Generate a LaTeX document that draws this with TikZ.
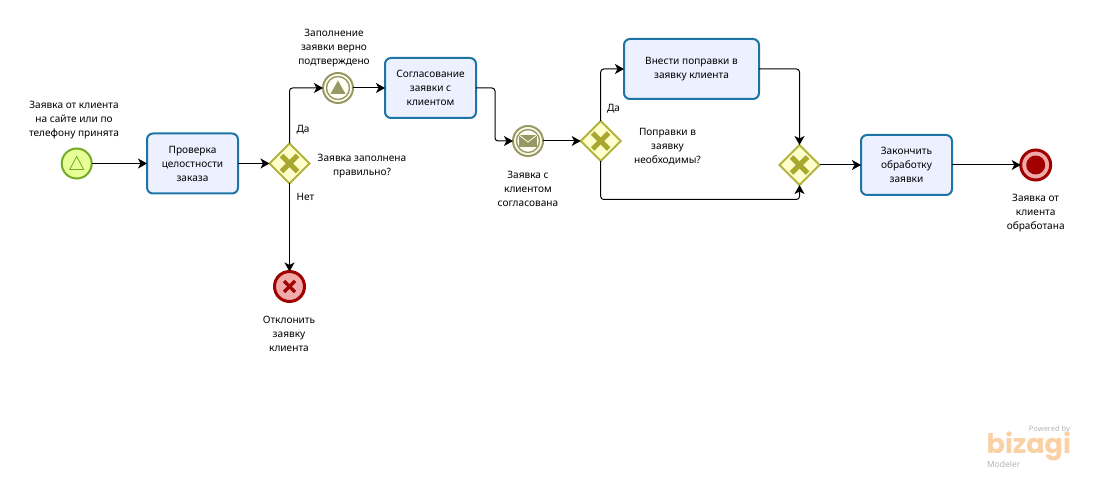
\documentclass[tikz,border=0pt]{standalone}
\usepackage{fontspec}
\setmainfont{Noto Sans}
\newfontfamily\logofont{Poppins}
\usetikzlibrary{arrows.meta,positioning,calc,shapes.geometric}
\definecolor{taskblue}{RGB}{31,116,166}
\definecolor{taskfill}{RGB}{236,240,255}
\definecolor{gatewayline}{RGB}{178,178,60}
\definecolor{gatewayfill}{RGB}{255,255,204}
\definecolor{crossolive}{RGB}{168,168,48}
\definecolor{startgreen}{RGB}{116,170,40}
\definecolor{startfill}{RGB}{230,255,151}
\definecolor{midolive}{RGB}{152,152,98}
\definecolor{midfill}{RGB}{255,255,245}
\definecolor{endred}{RGB}{160,0,0}
\definecolor{endfill}{RGB}{240,170,170}
\definecolor{logopeach}{RGB}{250,208,165}
\definecolor{logogray}{RGB}{176,182,186}

\begin{document}
\begin{tikzpicture}[
    x=1pt, y=-1pt,
    every node/.style={font=\fontsize{10.1}{14}\selectfont, inner sep=0pt, outer sep=0pt},
    task/.style={
      draw=taskblue, fill=taskfill, rounded corners=6pt, line width=2pt,
      minimum width=91pt, minimum height=60pt, align=center
    },
    gateway/.style={
      diamond, draw=gatewayline, fill=gatewayfill, line width=2pt,
      minimum width=40pt, minimum height=40pt
    },
    event/.style={circle, minimum size=30pt},
    startev/.style={event, draw=startgreen, fill=startfill, line width=2pt},
    midev/.style={event, draw=midolive, fill=midfill, line width=2pt},
    endev/.style={event, draw=endred, fill=endfill, line width=3pt},
    lbl/.style={align=center},
    flow/.style={-{Stealth[length=9pt,width=10pt,inset=2.5pt]}, line width=1pt,
                 rounded corners=3pt},
    crossmark/.style={line width=5pt},
  ]

  \useasboundingbox (0,0) rectangle (1093,478);

  % Main row
  \node[startev] (st) at (76.7,163.5) {};
  \node[task, right=55.3pt of st] (tk1) {Проверка\\целостности\\заказа};
  \node[gateway, right=31.5pt of tk1] (gw1) {};
  \node[endev, below=88pt of gw1] (err) {};

  % Upper branch
  \node[midev] (ev2) at (338,88) {};
  \node[task, right=32pt of ev2] (tk2) {Согласование\\заявки с\\клиентом};
  \node[midev] (ev3) at (528,141) {};
  \node[gateway, right=37.7pt of ev3] (gw2) {};
  \node[task, minimum width=135pt] (tk3) at (691.5,69) {Внести поправки в\\заявку клиента};
  \node[gateway] (gw3) at (799.5,165) {};
  \node[task, right=41.5pt of gw3] (tk4) {Закончить\\обработку\\заявки};
  \node[endev, right=68.7pt of tk4] (fin) {};

  % Bend points
  \coordinate (bend1) at (495,115);
  \coordinate (low) at (700,199.5);

  % Arrows
  \foreach \a/\b in {st/tk1, tk1/gw1, ev2/tk2, ev3/gw2, gw3/tk4, tk4/fin}
    \draw[flow] (\a) -- (\b);
  \draw[flow] (gw1.south) -- (err.north);
  \draw[flow] (gw1.north) |- (ev2.west);
  \draw[flow] (tk2.east) -| (bend1) |- (ev3.west);
  \draw[flow] (gw2.north) |- (tk3.west);
  \draw[flow] (tk3.east) -| (gw3.north);
  \draw[flow] (gw2.south) |- (low) -| (gw3.south);

  % Gateway crosses
  \foreach \g in {gw1,gw2,gw3} {
    \draw[crossmark, crossolive] ($(\g)+(-8,-8)$) -- ($(\g)+(8,8)$);
    \draw[crossmark, crossolive] ($(\g)+(-8,8)$) -- ($(\g)+(8,-8)$);
  }

  % Event marks
  \draw[startgreen, line width=0.8pt] ($(st)+(0,-7)$) -- ($(st)+(7,6)$) -- ($(st)+(-7,6)$) -- cycle;
  \foreach \e in {ev2,ev3}
    \draw[midolive, line width=1.4pt] (\e) circle (11.5);
  \fill[midolive] ($(ev2)+(0,-7.5)$) -- ($(ev2)+(7.5,6)$) -- ($(ev2)+(-7.5,6)$) -- cycle;
  \fill[midolive] ($(ev3)+(-9,-6)$) rectangle ($(ev3)+(9,6)$);
  \draw[midfill, line width=0.8pt] ($(ev3)+(-9,-6)$) -- ($(ev3)+(0,1)$) -- ($(ev3)+(9,-6)$);
  \draw[crossmark, endred, line width=3.5pt] ($(err)+(-5.5,-5.5)$) -- ($(err)+(5.5,5.5)$);
  \draw[crossmark, endred, line width=3.5pt] ($(err)+(-5.5,5.5)$) -- ($(err)+(5.5,-5.5)$);
  \fill[endred] (fin) circle (9.5);

  % Labels
  \node[lbl] (lst) at (74,120) {Заявка от клиента\\на сайте или по\\телефону принята};
  \node[lbl] (lgw1) at (362,166) {Заявка заполнена\\правильно?};
  \node[lbl] (lyes1) at (303,129.5) {Да};
  \node[lbl] (lno1) at (305.5,197) {Нет};
  \node[lbl] (lev2) at (334,48) {Заполнение\\заявки верно\\подтверждено};
  \node[lbl] (lev3) at (528,189) {Заявка с\\клиентом\\согласована};
  \node[lbl] (lyes2) at (613.5,109) {Да};
  \node[lbl] (lgw2) at (667.5,146.5) {Поправки в\\заявку\\необходимы?};
  \node[lbl] (lfin) at (1035.7,213) {Заявка от\\клиента\\обработана};
  \node[lbl] (lerr) at (289,334) {Отклонить\\заявку\\клиента};

  % Logo
  \node[font=\fontsize{7.5}{9}\selectfont\bfseries, text=logogray, anchor=east] (pow) at (1070,430) {Powered by};
  \node[font=\logofont\bfseries\fontsize{27}{27}\selectfont, text=logopeach, anchor=east] (biz) at (1071,446) {bizagi};
  \node[font=\fontsize{8.5}{10}\selectfont, text=logogray, anchor=west] (mod) at (987,464) {Modeler};

\end{tikzpicture}
\end{document}
